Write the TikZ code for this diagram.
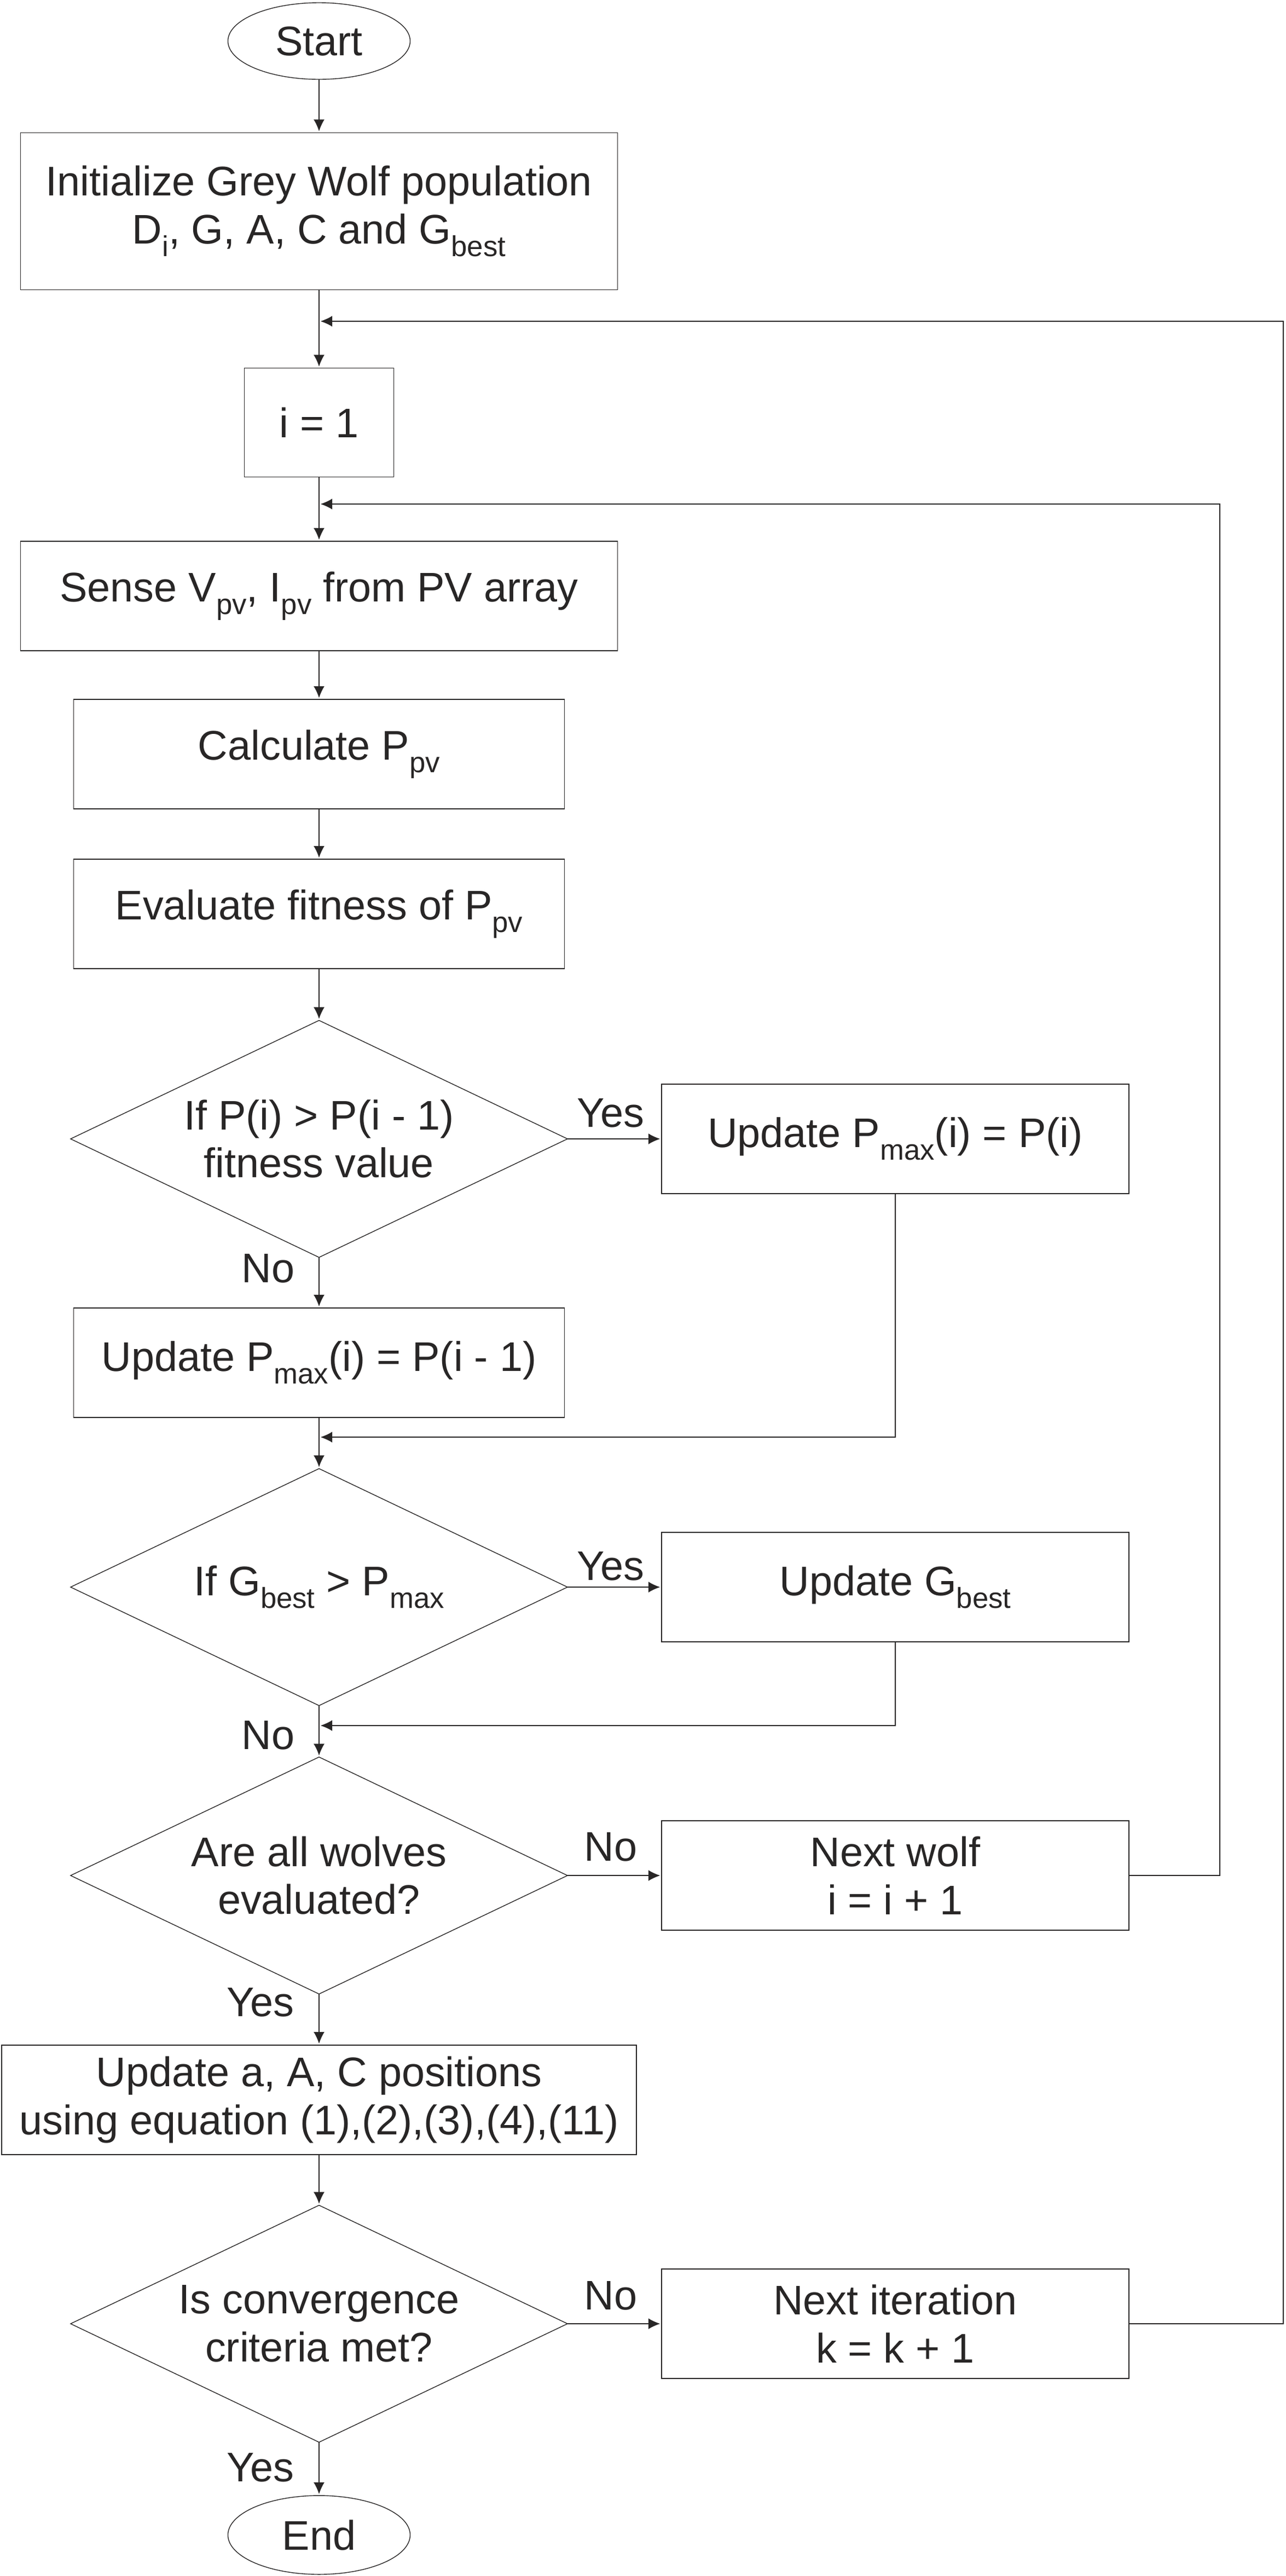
\documentclass[tikz,border=0pt]{standalone}
\usepackage{fontspec}
\setmainfont{Liberation Sans}
\usetikzlibrary{shapes.geometric,arrows.meta}
\definecolor{ink}{RGB}{40,38,38}
\newcommand{\subtxt}[1]{\raisebox{-0.3em}{\fontsize{15}{15}\selectfont #1}}

\begin{document}
\begin{tikzpicture}
\tikzset{ >={Latex[length=2.5mm,width=2.3mm]}, inner sep=0pt, outer sep=0pt, line width=0.85pt,
  every node/.style={text=ink, font=\fontsize{21.5}{25}\selectfont},
  box/.style={draw=ink, rectangle, align=center, minimum height=2.0cm},
  ifbox/.style={draw=ink, diamond, aspect=2.1, align=center, minimum width=9.08cm, minimum height=4.33cm},
  term/.style={draw=ink, ellipse, minimum width=3.33cm, minimum height=1.4cm},
  link/.style={->, draw=ink},  }

%\draw [lightgray, dashed](0,0) grid (23,-47);
\useasboundingbox (0,0) rectangle (23.49,-47.07);

\node [term] (Start) at (5.83,-0.75) {Start};
\node [box, minimum width=10.91cm, minimum height=2.87cm] (Init) at (5.83,-3.86) {Initialize Grey Wolf population\\ D\subtxt{i}, G, A, C and G\subtxt{best}};
\node [box, minimum width=2.73cm, minimum height=1.99cm] (One) at (5.83,-7.72) {i = 1};
\node [box, minimum width=10.91cm] (Sense) at (5.83,-10.89) {Sense V\subtxt{pv}, I\subtxt{pv} from PV array};
\node [box, minimum width=8.97cm] (Calc) at (5.83,-13.78) {Calculate P\subtxt{pv}};
\node [box, minimum width=8.97cm] (Eval) at (5.83,-16.70) {Evaluate fitness of P\subtxt{pv}};
\node [ifbox] (IfP) at (5.83,-20.81) {If P(i) > P(i - 1)\\fitness value};
\node [box, minimum width=8.54cm] (UpdA) at (16.36,-20.81) {Update P\subtxt{max}(i) = P(i)};
\node [box, minimum width=8.97cm] (UpdB) at (5.83,-24.90) {Update P\subtxt{max}(i) = P(i - 1)};
\node [ifbox] (IfG) at (5.83,-29.00) {If G\subtxt{best} > P\subtxt{max}};
\node [box, minimum width=8.54cm] (UpdG) at (16.36,-29.00) {Update G\subtxt{best}};
\node [ifbox] (IfW) at (5.83,-34.27) {Are all wolves\\evaluated?};
\node [box, minimum width=8.54cm] (Wolf) at (16.36,-34.27) {Next wolf\\i = i + 1};
\node [box, minimum width=11.6cm] (Pos) at (5.83,-38.37) {Update a, A, C positions\\using equation (1),(2),(3),(4),(11)};
\node [ifbox] (IfC) at (5.83,-42.46) {Is convergence\\criteria met?};
\node [box, minimum width=8.54cm] (Iter) at (16.36,-42.46) {Next iteration\\k = k + 1};
\node [term, minimum height=1.44cm] (End) at (5.83,-46.32) {End};

\coordinate (F2) at (5.83,-5.87);
\coordinate (R2) at (23.45,-5.87);
\coordinate (F1) at (5.83,-9.21);
\coordinate (R1) at (22.29,-9.21);
\coordinate (M1) at (5.83,-26.26);
\coordinate (M2) at (5.83,-31.53);

\draw [link] (Start) -- (Init);
\draw [link] (Init)  -- (One);
\draw [link] (One)   -- (Sense);
\draw [link] (Sense) -- (Calc);
\draw [link] (Calc)  -- (Eval);
\draw [link] (Eval)  -- (IfP);
\draw [link] (IfP)   -- (UpdA);
\draw [link] (IfP)   -- (UpdB);
\draw [link] (UpdA)  |- (M1);
\draw [link] (UpdB)  -- (IfG);
\draw [link] (IfG)   -- (UpdG);
\draw [link] (UpdG)  |- (M2);
\draw [link] (IfG)   -- (IfW);
\draw [link] (IfW)   -- (Wolf);
\draw [link] (Wolf)  -| (R1) -- (F1);
\draw [link] (IfW)   -- (Pos);
\draw [link] (Pos)   -- (IfC);
\draw [link] (IfC)   -- (Iter);
\draw [link] (Iter)  -| (R2) -- (F2);
\draw [link] (IfC)   -- (End);

\node (yesP) at (11.16,-20.34) {Yes};
\node (noP)  at (4.90,-23.18)  {No};
\node (yesG) at (11.16,-28.62) {Yes};
\node (noG)  at (4.90,-31.71)  {No};
\node (noW)  at (11.16,-33.75) {No};
\node (yesW) at (4.76,-36.59)  {Yes};
\node (noC)  at (11.16,-41.95) {No};
\node (yesC) at (4.76,-45.09)  {Yes};
\end{tikzpicture}
\end{document}
